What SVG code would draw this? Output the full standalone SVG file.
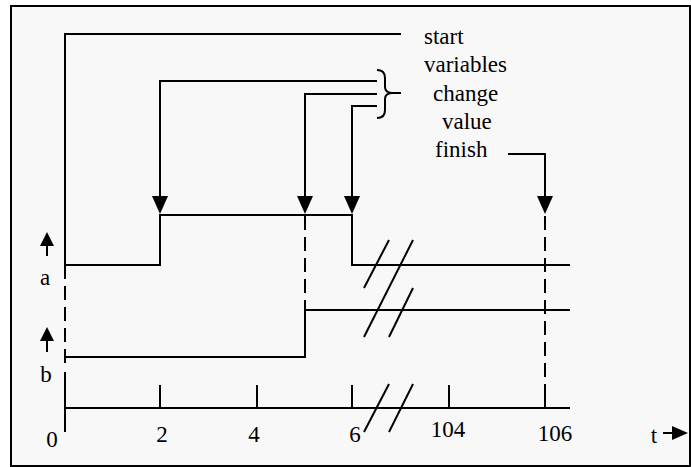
<svg xmlns="http://www.w3.org/2000/svg" width="691" height="467" viewBox="0 0 691 467">
<style>
.ln{fill:none;stroke:#000;stroke-width:2}
.dash{fill:none;stroke:#000;stroke-width:2;stroke-dasharray:14 7}
.ah{fill:#000;stroke:none}
text{font-family:"Liberation Serif","Times New Roman",serif;font-size:23px;fill:#000}
.m{text-anchor:middle}
</style>
<defs>
<polygon id="down" points="-8,-18 8,-18 0,0"/>
<polygon id="up" points="-7,14 7,14 0,0"/>
</defs>
<rect x="0" y="0" width="691" height="467" fill="#fff"/>
<rect x="11" y="6" width="679" height="460" fill="#f8f8f8" stroke="#000" stroke-width="2"/>
<g id="connectors">
<polyline class="ln" points="401,34 65,34 65,265"/>
<polyline class="ln" points="377,81 160,81 160,198"/>
<use href="#down" x="160" y="214" class="ah"/>
<polyline class="ln" points="377,94 305,94 305,198"/>
<use href="#down" x="305" y="214" class="ah"/>
<polyline class="ln" points="377,106 352,106 352,198"/>
<use href="#down" x="352" y="214" class="ah"/>
<polyline class="ln" points="508,154 545,154 545,198"/>
<use href="#down" x="545" y="214" class="ah"/>
<path class="ln" d="M377,70 Q385,70 385,78 L385,87 Q385,93 393,93 L401,93 M393,93 Q385,93 385,99 L385,110 Q385,118 377,118"/>
<line class="dash" x1="305" y1="216" x2="305" y2="310"/>
<line class="dash" x1="545" y1="216" x2="545" y2="408"/>
<line class="dash" x1="65" y1="265" x2="65" y2="364"/>
</g>
<g id="signal-a">
<polyline class="ln" points="65,265 160,265 160,215 352,215 352,265 570,265"/>
<line class="ln" x1="47" y1="246" x2="47" y2="256"/>
<use href="#up" x="47" y="232" class="ah"/>
<text x="45" y="285" class="m">a</text>
</g>
<g id="signal-b">
<polyline class="ln" points="65,357 305,357 305,310 570,310"/>
<line class="ln" x1="47" y1="341" x2="47" y2="352"/>
<use href="#up" x="47" y="327" class="ah"/>
<text x="46" y="382" class="m">b</text>
</g>
<g id="axis">
<line class="ln" x1="65" y1="372" x2="65" y2="432"/>
<line class="ln" x1="65" y1="408" x2="570" y2="408"/>
<line class="ln" x1="160" y1="385" x2="160" y2="408"/>
<line class="ln" x1="257" y1="385" x2="257" y2="408"/>
<line class="ln" x1="352" y1="385" x2="352" y2="408"/>
<line class="ln" x1="449" y1="385" x2="449" y2="408"/>
<line class="ln" x1="545" y1="385" x2="545" y2="408"/>
<text x="52" y="447" class="m">0</text>
<text x="162" y="442" class="m">2</text>
<text x="254" y="442" class="m">4</text>
<text x="355" y="442" class="m">6</text>
<text x="448" y="437" class="m">104</text>
<text x="555" y="441" class="m">106</text>
<text x="654" y="443" class="m">t</text>
<line class="ln" x1="663" y1="433" x2="674" y2="433"/>
<polygon class="ah" points="672,426 688,433 672,440"/>
</g>
<g id="breaks">
<line class="ln" x1="389" y1="240" x2="364" y2="288"/>
<line class="ln" x1="413" y1="240" x2="364" y2="337"/>
<line class="ln" x1="413" y1="288" x2="389" y2="337"/>
<line class="ln" x1="389" y1="384" x2="364" y2="432"/>
<line class="ln" x1="413" y1="384" x2="389" y2="432"/>
</g>
<g id="labels">
<text x="424" y="44">start</text>
<text x="424" y="72">variables</text>
<text x="433" y="101">change</text>
<text x="442" y="129">value</text>
<text x="435" y="157">finish</text>
</g>
</svg>
